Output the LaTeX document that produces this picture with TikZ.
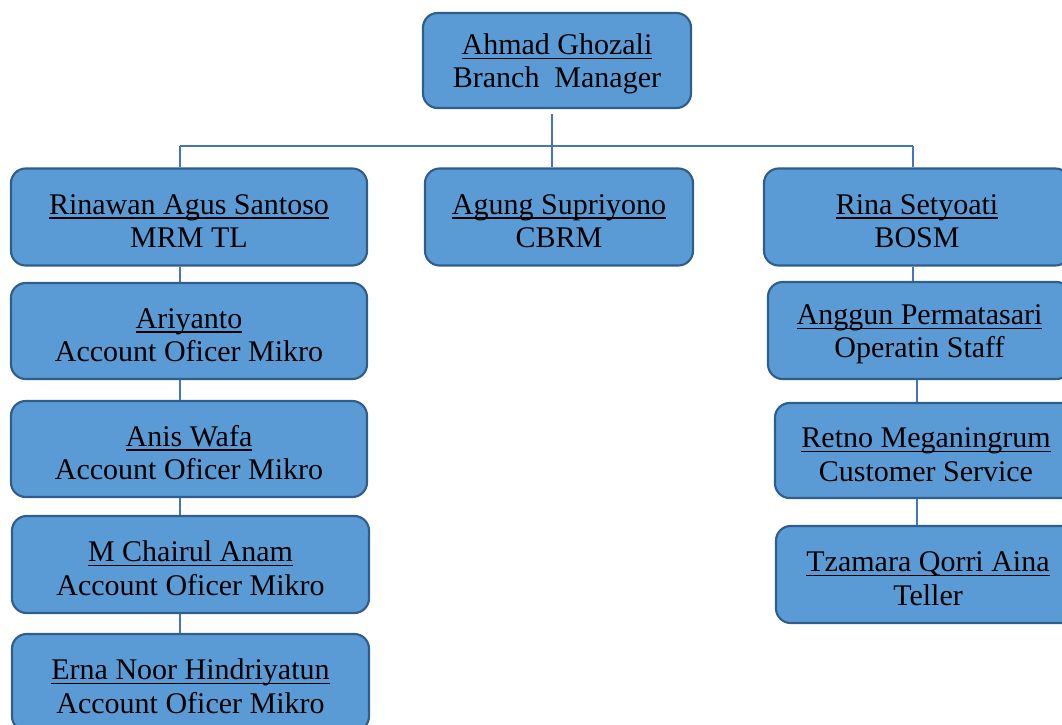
\documentclass[tikz,border=0pt]{standalone}
\usepackage{fontspec}
\setmainfont{Liberation Serif}
\definecolor{boxfill}{HTML}{5B9BD5}
\definecolor{boxdraw}{HTML}{2F5E8C}
\definecolor{conncol}{HTML}{4472C4}
\newcommand\nmul[1]{\setbox0\hbox{#1}\rlap{\rule[-3.6pt]{\wd0}{1.4pt}}\box0}
\newcommand\bx[2]{\rule{0pt}{21pt}\nmul{#1}\\#2}
\begin{document}
\begin{tikzpicture}[x=0.75pt,y=-0.75pt,
  box/.style={rectangle, rounded corners=11pt, fill=boxfill, draw=boxdraw, line width=1.6pt,
    align=center, inner sep=0pt, font=\fontsize{22.5pt}{25pt}\selectfont},
  conn/.style={draw=conncol, line width=1.3pt}]
\clip (0,0) rectangle (1062,724);
% boxes
\node[box, minimum width=268*0.75pt, minimum height=95*0.75pt] (top) at (557,60.5) {\bx{Ahmad Ghozali}{Branch~~Manager}};
\node[box, minimum width=356*0.75pt, minimum height=97*0.75pt] (rin) at (189,217) {\bx{Rinawan Agus Santoso}{MRM TL}};
\node[box, minimum width=268*0.75pt, minimum height=97*0.75pt] (agung) at (559,217) {\bx{Agung Supriyono}{CBRM}};
\node[box, minimum width=306*0.75pt, minimum height=97*0.75pt] (rina) at (917,217) {\bx{Rina Setyoati}{BOSM}};
\node[box, minimum width=356*0.75pt, minimum height=96*0.75pt] (ari) at (189,331) {\bx{Ariyanto}{Account Oficer Mikro}};
\node[box, minimum width=356*0.75pt, minimum height=96*0.75pt] (anis) at (189,449) {\bx{Anis Wafa}{Account Oficer Mikro}};
\node[box, minimum width=357*0.75pt, minimum height=97*0.75pt] (chai) at (190.5,564.5) {\bx{M Chairul Anam}{Account Oficer Mikro}};
\node[box, minimum width=357*0.75pt, minimum height=97*0.75pt] (erna) at (190.5,682.5) {\bx{Erna Noor Hindriyatun}{Account Oficer Mikro}};
\node[box, minimum width=303*0.75pt, minimum height=97*0.75pt] (angg) at (919.5,330.5) {\bx{Anggun Permatasari}{Operatin Staff}};
\node[box, minimum width=302*0.75pt, minimum height=95*0.75pt] (retno) at (926,450.5) {\bx{Retno Meganingrum}{Customer Service}};
\node[box, minimum width=304*0.75pt, minimum height=97*0.75pt] (tza) at (928,574.5) {\bx{Tzamara Qorri Aina}{Teller}};
% connectors
\coordinate (bl) at (180,146);
\coordinate (bm) at (552,146);
\coordinate (br) at (913,146);
\coordinate (cl) at (180,0);
\coordinate (cr) at (917,0);
\draw[conn] (bl) -- (br);
\draw[conn] (bm |- top.south) ++(0,5) -- (bm |- agung.north);
\draw[conn] (bl) -- (bl |- rin.north);
\draw[conn] (br) -- (br |- rina.north);
\draw[conn] (cl |- rin.south) -- (cl |- ari.north);
\draw[conn] (cl |- ari.south) -- (cl |- anis.north);
\draw[conn] (cl |- anis.south) -- (cl |- chai.north);
\draw[conn] (cl |- chai.south) -- (cl |- erna.north);
\draw[conn] (br |- rina.south) -- (br |- angg.north);
\draw[conn] (cr |- angg.south) -- (cr |- retno.north);
\draw[conn] (cr |- retno.south) -- (cr |- tza.north);
\end{tikzpicture}
\end{document}
